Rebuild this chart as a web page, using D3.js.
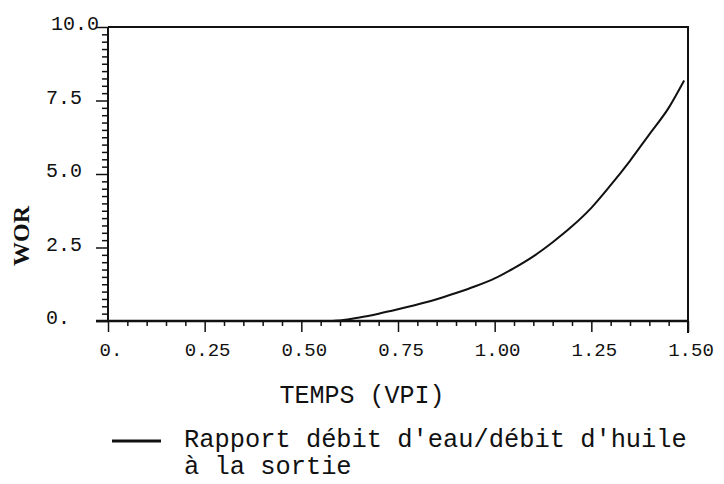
<!DOCTYPE html>
<html>
<head>
<meta charset="utf-8">
<script src="https://cdn.jsdelivr.net/npm/d3@7"></script>
<style>
  html, body { margin: 0; padding: 0; background: #fff; }
  svg { display: block; }
  text { font-family: "Liberation Mono", "DejaVu Sans Mono", monospace; fill: #111; }
</style>
</head>
<body>
<svg id="chart" width="724" height="484"></svg>
<script>
// ---- data ----
const timeVPI = [0, 0.25, 0.50, 0.58, 0.60, 0.65, 0.70, 0.75, 0.80, 0.85, 0.90, 0.95, 1.00, 1.05, 1.10, 1.15, 1.20, 1.25, 1.30, 1.35, 1.40, 1.45, 1.49];
const worValues = [0, 0, 0, 0, 0.02, 0.12, 0.25, 0.40, 0.56, 0.74, 0.95, 1.18, 1.45, 1.80, 2.20, 2.68, 3.22, 3.85, 4.62, 5.45, 6.35, 7.25, 8.18];
const xTickValues = [0, 0.25, 0.50, 0.75, 1.00, 1.25, 1.50];
const xTickLabels = ["0.", "0.25", "0.50", "0.75", "1.00", "1.25", "1.50"];
const yTickValues = [0, 2.5, 5.0, 7.5, 10.0];
const yTickLabels = ["0.", "2.5", "5.0", "7.5", "10.0"];
const xAxisTitle = "TEMPS (VPI)";
const yAxisTitle = "WOR";
const legendLines = ["Rapport débit d'eau/débit d'huile", "à la sortie"];

// ---- layout ----
const svg = d3.select("#chart");
const x = d3.scaleLinear().domain([0, 1.5]).range([108, 688]);
const y = d3.scaleLinear().domain([0, 10]).range([321, 27]);

// frame (top and right borders)
svg.append("path")
  .attr("d", `M${x(0)},${y(10)} H${x(1.5)} V${y(0) + 12}`)
  .attr("fill", "none").attr("stroke", "#111").attr("stroke-width", 2);

// y axis: major ticks left, minor ticks every 0.25
const yMinor = d3.range(0, 10.001, 0.25).filter(v => !yTickValues.some(t => Math.abs(t - v) < 1e-6));
const yAxisMinor = d3.axisLeft(y).tickValues(yMinor).tickSize(6).tickFormat("");
const yAxisMajor = d3.axisLeft(y).tickValues(yTickValues).tickSize(12).tickFormat("");
svg.append("g").attr("transform", `translate(${x(0)},0)`).call(yAxisMinor)
  .call(g => g.select(".domain").remove())
  .call(g => g.selectAll("line").attr("stroke", "#111").attr("stroke-width", 1.5));
svg.append("g").attr("transform", `translate(${x(0)},0)`).call(yAxisMajor)
  .call(g => g.select(".domain").attr("stroke", "#111").attr("stroke-width", 2).attr("d", `M0,${y(10)}V${y(0)}`))
  .call(g => g.selectAll("line").attr("stroke", "#111").attr("stroke-width", 1.5));

// y tick labels
svg.append("g").selectAll("text").data(yTickValues).join("text")
  .attr("x", (d, i) => i === 4 ? 51 : 46)
  .attr("y", d => y(d) + 3)
  .attr("font-size", 20)
  .text((d, i) => yTickLabels[i]);

// x axis: ticks below
const xMinor = d3.range(0, 1.5001, 0.05).filter(v => !xTickValues.some(t => Math.abs(t - v) < 1e-6));
const xAxisMinor = d3.axisBottom(x).tickValues(xMinor).tickSize(5).tickFormat("");
const xAxisMajor = d3.axisBottom(x).tickValues(xTickValues).tickSize(11).tickFormat("");
svg.append("g").attr("transform", `translate(0,${y(0)})`).call(xAxisMinor)
  .call(g => g.select(".domain").remove())
  .call(g => g.selectAll("line").attr("stroke", "#111").attr("stroke-width", 1.5));
svg.append("g").attr("transform", `translate(0,${y(0)})`).call(xAxisMajor)
  .call(g => g.select(".domain").attr("stroke", "#111").attr("stroke-width", 2.5).attr("d", `M${x(0) - 12},0H${x(1.5)}`))
  .call(g => g.selectAll("line").attr("stroke", "#111").attr("stroke-width", 1.5));

// x tick labels
svg.append("g").selectAll("text").data(xTickValues).join("text")
  .attr("x", d => x(d) + 3)
  .attr("y", 356)
  .attr("text-anchor", "middle")
  .attr("font-size", 19)
  .text((d, i) => xTickLabels[i]);

// axis titles
svg.append("text").attr("x", 362).attr("y", 403).attr("text-anchor", "middle")
  .attr("font-size", 25).text(xAxisTitle);
svg.append("text")
  .attr("transform", `translate(29,236) rotate(-90)`)
  .attr("text-anchor", "middle")
  .attr("font-size", 24).attr("font-weight", "bold")
  .style("font-family", "'Liberation Serif', serif")
  .text(yAxisTitle);

// curve
const pts = timeVPI.map((t, i) => [t, worValues[i]]);
svg.append("path").datum(pts)
  .attr("fill", "none").attr("stroke", "#111").attr("stroke-width", 2)
  .attr("d", d3.line().x(d => x(d[0])).y(d => y(d[1])).curve(d3.curveMonotoneX));

// legend
svg.append("line").attr("x1", 112).attr("x2", 161).attr("y1", 441).attr("y2", 441)
  .attr("stroke", "#111").attr("stroke-width", 3);
svg.append("g").selectAll("text").data(legendLines).join("text")
  .attr("x", 184).attr("y", (d, i) => 447 + i * 27)
  .attr("font-size", 25.4)
  .text(d => d);
</script>
</body>
</html>
